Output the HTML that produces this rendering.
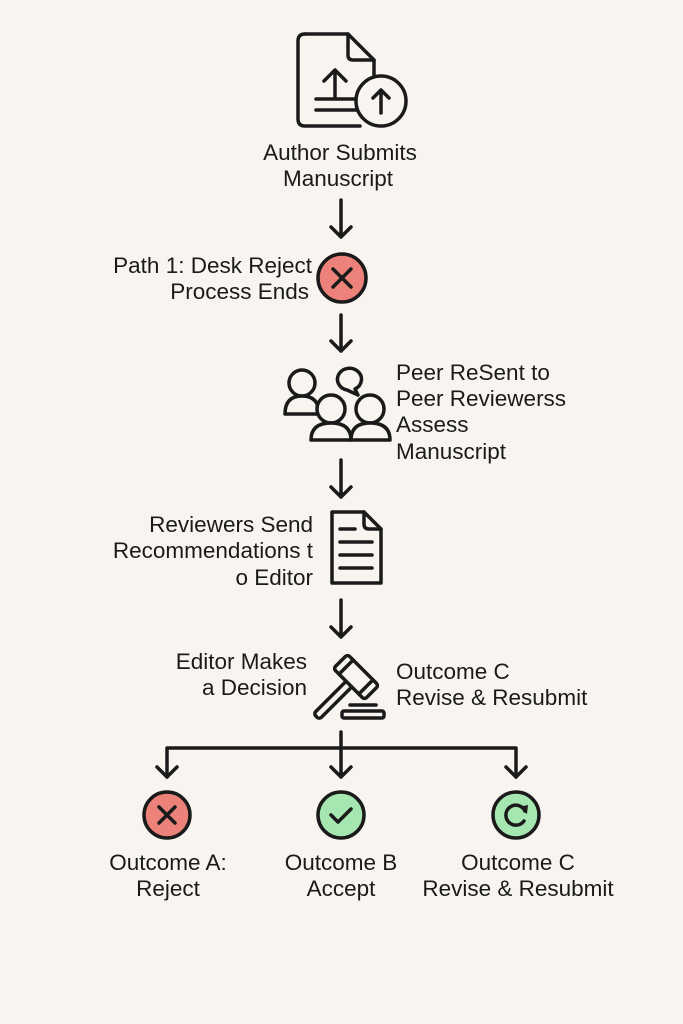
<!DOCTYPE html>
<html><head><meta charset="utf-8"><style>
html,body{margin:0;padding:0;background:#f8f5f1;}
svg{display:block}
text{font-family:"Liberation Sans","DejaVu Sans",sans-serif;font-size:22.5px;fill:#1a1a1a}
</style></head><body>
<svg width="683" height="1024" viewBox="0 0 683 1024" xmlns="http://www.w3.org/2000/svg">
<rect width="683" height="1024" fill="#f8f5f1"/>
<g fill="none" stroke="#1a1a1a" stroke-width="3.5" stroke-linecap="round" stroke-linejoin="round">
<path d="M305 34 H348 L374 60 V80"/>
<path d="M360 126 H305 Q298 126 298 119 V41 Q298 34 305 34"/>
<path d="M348 34 V55 Q348 60 353 60 H374"/>
<path d="M335 98 V70 M324 81 L335 70 L346 81"/>
<path d="M316 99 H357 M316 110 H357"/>
<circle cx="381" cy="101" r="25" fill="#f8f5f1"/>
<path d="M381 113 V90 M373 98 L381 90 L389 98"/>
<path d="M341 200 V237 M331 227 L341 237 L351 227"/>
<path d="M341 315 V351 M331 341 L341 351 L351 341"/>
<path d="M341 460 V497 M331 487 L341 497 L351 487"/>
<path d="M341 600 V637 M331 627 L341 637 L351 627"/>
<circle cx="342" cy="278" r="24" fill="#ec8279"/>
<path d="M333 269 L351 287 M351 269 L333 287"/>
<circle cx="302" cy="383" r="13"/>
<path d="M285 414 Q285 396 302 396 Q319 396 319 414 Z" fill="#f8f5f1"/>
<circle cx="331" cy="409" r="14" fill="#f8f5f1"/>
<path d="M311 440 Q311 423 331 423 Q351 423 351 440 Z" fill="#f8f5f1"/>
<circle cx="370" cy="409" r="14" fill="#f8f5f1"/>
<path d="M351 440 Q351 423 370 423 Q390 423 390 440 Z" fill="#f8f5f1"/>
<path d="M347 390 A12 11 0 1 1 355 389 L358 395 Z"/>
<path d="M332 512 H364 L381 529 V583 H332 Z"/>
<path d="M364 512 V524 Q364 529 369 529 H381"/>
<path d="M340 529 H355 M340 542 H372 M340 555 H372 M340 568 H372"/>
<g transform="translate(356 677) rotate(-45)">
<rect x="-56" y="-4" width="48" height="8" rx="3"/>
<rect x="-10" y="-22" width="20" height="44" rx="3" fill="#f8f5f1"/>
<path d="M-10 -14 H10 M-10 14 H10"/>
</g>
<rect x="342" y="711" width="42" height="7" rx="2"/>
<path d="M350 705 H376"/>
<path d="M341 732 V777 M331 767 L341 777 L351 767"/>
<path d="M167 777 V748 H516 V777"/>
<path d="M157 767 L167 777 L177 767 M506 767 L516 777 L526 767"/>
<circle cx="167" cy="815" r="23" fill="#ec8279"/>
<path d="M159 807 L175 823 M175 807 L159 823"/>
<circle cx="341" cy="815" r="23" fill="#a6e6b0"/>
<path d="M331 815 L338 822 L351 809"/>
<circle cx="516" cy="815" r="23" fill="#a6e6b0"/>
<path d="M525 811 A10 10 0 1 0 524 821"/>
</g>
<path d="M519 807 L528 805 L527 814 Z" fill="#1a1a1a"/>
<g text-anchor="middle">
<text x="340" y="160">Author Submits</text>
<text x="338" y="186">Manuscript</text>
<text x="168" y="870">Outcome A:</text>
<text x="168" y="896">Reject</text>
<text x="341" y="870">Outcome B</text>
<text x="341" y="896">Accept</text>
<text x="518" y="870">Outcome C</text>
<text x="518" y="896">Revise &amp; Resubmit</text>
</g>
<g text-anchor="end">
<text x="312" y="273">Path 1: Desk Reject</text>
<text x="309" y="299">Process Ends</text>
<text x="313" y="532">Reviewers Send</text>
<text x="313" y="558">Recommendations t</text>
<text x="313" y="585">o Editor</text>
<text x="307" y="669">Editor Makes</text>
<text x="307" y="695">a Decision</text>
</g>
<text x="396" y="380">Peer ReSent to</text>
<text x="396" y="406">Peer Reviewerss</text>
<text x="396" y="432">Assess</text>
<text x="396" y="459">Manuscript</text>
<text x="396" y="679">Outcome C</text>
<text x="396" y="705">Revise &amp; Resubmit</text>
</svg>
</body></html>
